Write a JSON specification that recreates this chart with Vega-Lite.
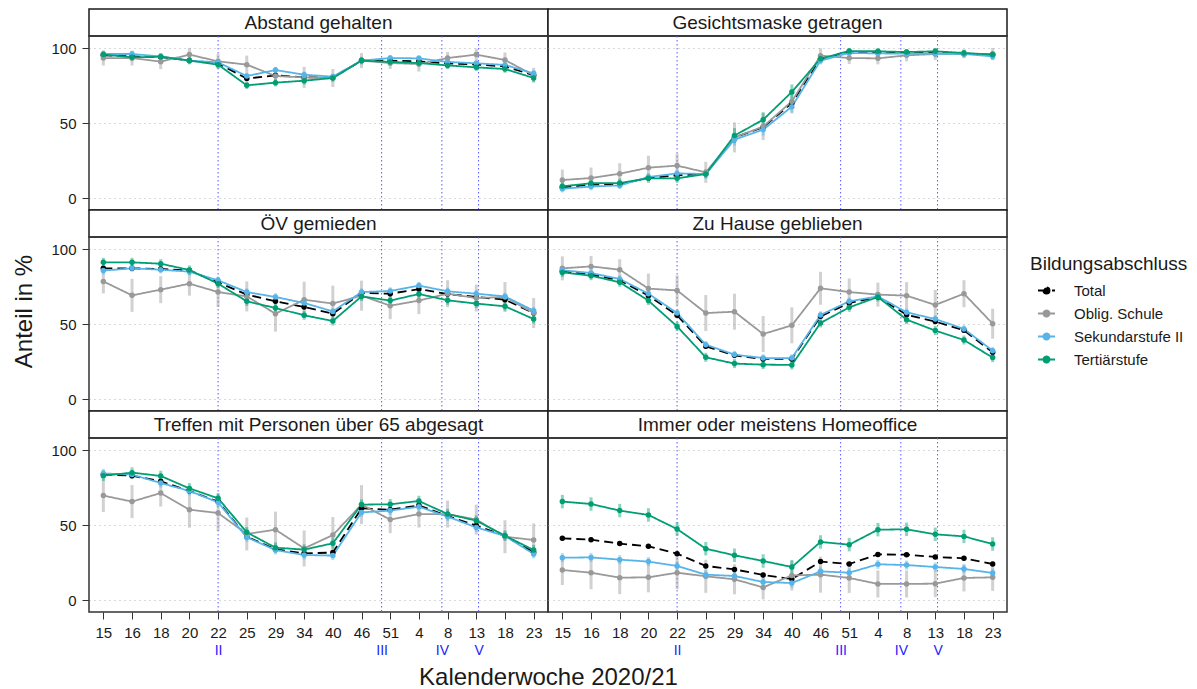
{
"$schema": "https://vega.github.io/schema/vega-lite/v6.json",
"padding": {"left": 12, "top": 8, "right": 5, "bottom": 0},
"config": {
  "font": "Liberation Sans",
  "view": {"stroke": "#333333", "strokeWidth": 1.5},
  "axis": {"domain": false, "labelColor": "#1a1a1a", "tickColor": "#333333", "gridColor": "#b5b5b5", "gridDash": [1, 4], "gridWidth": 1, "titleColor": "#1a1a1a", "labelFlush": false},
  "legend": {"labelColor": "#1a1a1a", "titleColor": "#1a1a1a"},
  "text": {"color": "#1a1a1a"}
},
"datasets": {
"rules": [{"r": 4, "t": "II"}, {"r": 9.7, "t": "III"}, {"r": 11.8, "t": "IV"}, {"r": 13.08, "t": "V"}],
"d": [
{"p":"A","i":0,"g":"Total","v":95.1,"lo":93.9,"hi":96.3},
{"p":"A","i":1,"g":"Total","v":94.4,"lo":93.2,"hi":95.6},
{"p":"A","i":2,"g":"Total","v":94,"lo":92.8,"hi":95.2},
{"p":"A","i":3,"g":"Total","v":91.6,"lo":90.4,"hi":92.8},
{"p":"A","i":4,"g":"Total","v":89.8,"lo":88.6,"hi":91},
{"p":"A","i":5,"g":"Total","v":79.6,"lo":78.4,"hi":80.8},
{"p":"A","i":6,"g":"Total","v":81.8,"lo":80.6,"hi":83},
{"p":"A","i":7,"g":"Total","v":80.4,"lo":79.2,"hi":81.6},
{"p":"A","i":8,"g":"Total","v":80.4,"lo":79.2,"hi":81.6},
{"p":"A","i":9,"g":"Total","v":91.6,"lo":90.4,"hi":92.8},
{"p":"A","i":10,"g":"Total","v":91.6,"lo":90.4,"hi":92.8},
{"p":"A","i":11,"g":"Total","v":91.1,"lo":89.9,"hi":92.3},
{"p":"A","i":12,"g":"Total","v":89.8,"lo":88.6,"hi":91},
{"p":"A","i":13,"g":"Total","v":88.9,"lo":87.7,"hi":90.1},
{"p":"A","i":14,"g":"Total","v":87.8,"lo":86.6,"hi":89},
{"p":"A","i":15,"g":"Total","v":81.8,"lo":80.6,"hi":83},
{"p":"A","i":0,"g":"Oblig. Schule","v":93.3,"lo":88.3,"hi":98.3},
{"p":"A","i":1,"g":"Oblig. Schule","v":93.3,"lo":88.3,"hi":98.3},
{"p":"A","i":2,"g":"Oblig. Schule","v":90.9,"lo":85.9,"hi":95.9},
{"p":"A","i":3,"g":"Oblig. Schule","v":95.6,"lo":91.1,"hi":100.1},
{"p":"A","i":4,"g":"Oblig. Schule","v":91.1,"lo":86.1,"hi":96.1},
{"p":"A","i":5,"g":"Oblig. Schule","v":88.9,"lo":82.9,"hi":94.9},
{"p":"A","i":6,"g":"Oblig. Schule","v":81.3,"lo":75.3,"hi":87.3},
{"p":"A","i":7,"g":"Oblig. Schule","v":80.4,"lo":73.4,"hi":87.4},
{"p":"A","i":8,"g":"Oblig. Schule","v":80,"lo":74,"hi":86},
{"p":"A","i":9,"g":"Oblig. Schule","v":91.6,"lo":86.6,"hi":96.6},
{"p":"A","i":10,"g":"Oblig. Schule","v":90,"lo":86,"hi":94},
{"p":"A","i":11,"g":"Oblig. Schule","v":89.3,"lo":84.3,"hi":94.3},
{"p":"A","i":12,"g":"Oblig. Schule","v":93.3,"lo":89.3,"hi":97.3},
{"p":"A","i":13,"g":"Oblig. Schule","v":95.6,"lo":91.6,"hi":99.6},
{"p":"A","i":14,"g":"Oblig. Schule","v":92,"lo":87,"hi":97},
{"p":"A","i":15,"g":"Oblig. Schule","v":81.8,"lo":76.8,"hi":86.8},
{"p":"A","i":0,"g":"Sekundarstufe II","v":96,"lo":94,"hi":98},
{"p":"A","i":1,"g":"Sekundarstufe II","v":96,"lo":94,"hi":98},
{"p":"A","i":2,"g":"Sekundarstufe II","v":94.4,"lo":92.4,"hi":96.4},
{"p":"A","i":3,"g":"Sekundarstufe II","v":91.6,"lo":89.6,"hi":93.6},
{"p":"A","i":4,"g":"Sekundarstufe II","v":90.4,"lo":88.4,"hi":92.4},
{"p":"A","i":5,"g":"Sekundarstufe II","v":81.3,"lo":79.3,"hi":83.3},
{"p":"A","i":6,"g":"Sekundarstufe II","v":85.3,"lo":83.3,"hi":87.3},
{"p":"A","i":7,"g":"Sekundarstufe II","v":82.2,"lo":80.2,"hi":84.2},
{"p":"A","i":8,"g":"Sekundarstufe II","v":80.9,"lo":78.9,"hi":82.9},
{"p":"A","i":9,"g":"Sekundarstufe II","v":91.6,"lo":89.6,"hi":93.6},
{"p":"A","i":10,"g":"Sekundarstufe II","v":93.3,"lo":91.3,"hi":95.3},
{"p":"A","i":11,"g":"Sekundarstufe II","v":93.1,"lo":91.1,"hi":95.1},
{"p":"A","i":12,"g":"Sekundarstufe II","v":90.7,"lo":88.7,"hi":92.7},
{"p":"A","i":13,"g":"Sekundarstufe II","v":89.8,"lo":87.8,"hi":91.8},
{"p":"A","i":14,"g":"Sekundarstufe II","v":88.7,"lo":86.7,"hi":90.7},
{"p":"A","i":15,"g":"Sekundarstufe II","v":83.1,"lo":81.1,"hi":85.1},
{"p":"A","i":0,"g":"Tertiärstufe","v":95.6,"lo":93.1,"hi":98.1},
{"p":"A","i":1,"g":"Tertiärstufe","v":93.8,"lo":91.3,"hi":96.3},
{"p":"A","i":2,"g":"Tertiärstufe","v":94.2,"lo":91.7,"hi":96.7},
{"p":"A","i":3,"g":"Tertiärstufe","v":91.6,"lo":89.1,"hi":94.1},
{"p":"A","i":4,"g":"Tertiärstufe","v":88.9,"lo":86.4,"hi":91.4},
{"p":"A","i":5,"g":"Tertiärstufe","v":75.1,"lo":72.6,"hi":77.6},
{"p":"A","i":6,"g":"Tertiärstufe","v":76.9,"lo":74.4,"hi":79.4},
{"p":"A","i":7,"g":"Tertiärstufe","v":78.2,"lo":75.7,"hi":80.7},
{"p":"A","i":8,"g":"Tertiärstufe","v":80,"lo":77.5,"hi":82.5},
{"p":"A","i":9,"g":"Tertiärstufe","v":91.6,"lo":89.1,"hi":94.1},
{"p":"A","i":10,"g":"Tertiärstufe","v":90.7,"lo":88.2,"hi":93.2},
{"p":"A","i":11,"g":"Tertiärstufe","v":90,"lo":87.5,"hi":92.5},
{"p":"A","i":12,"g":"Tertiärstufe","v":88.4,"lo":85.9,"hi":90.9},
{"p":"A","i":13,"g":"Tertiärstufe","v":87.1,"lo":84.6,"hi":89.6},
{"p":"A","i":14,"g":"Tertiärstufe","v":86,"lo":83.5,"hi":88.5},
{"p":"A","i":15,"g":"Tertiärstufe","v":80,"lo":77.5,"hi":82.5},
{"p":"B","i":0,"g":"Total","v":7.1,"lo":5.6,"hi":8.6},
{"p":"B","i":1,"g":"Total","v":8.9,"lo":7.4,"hi":10.4},
{"p":"B","i":2,"g":"Total","v":9.3,"lo":7.8,"hi":10.8},
{"p":"B","i":3,"g":"Total","v":13.3,"lo":11.8,"hi":14.8},
{"p":"B","i":4,"g":"Total","v":15.1,"lo":13.6,"hi":16.6},
{"p":"B","i":5,"g":"Total","v":16.2,"lo":14.7,"hi":17.7},
{"p":"B","i":6,"g":"Total","v":40.4,"lo":38.9,"hi":41.9},
{"p":"B","i":7,"g":"Total","v":47.1,"lo":45.6,"hi":48.6},
{"p":"B","i":8,"g":"Total","v":63.3,"lo":61.8,"hi":64.8},
{"p":"B","i":9,"g":"Total","v":92.9,"lo":91.4,"hi":94.4},
{"p":"B","i":10,"g":"Total","v":97.1,"lo":95.6,"hi":98.6},
{"p":"B","i":11,"g":"Total","v":97.1,"lo":95.6,"hi":98.6},
{"p":"B","i":12,"g":"Total","v":96.7,"lo":95.2,"hi":98.2},
{"p":"B","i":13,"g":"Total","v":96.7,"lo":95.2,"hi":98.2},
{"p":"B","i":14,"g":"Total","v":96.2,"lo":94.7,"hi":97.7},
{"p":"B","i":15,"g":"Total","v":95.6,"lo":94.1,"hi":97.1},
{"p":"B","i":0,"g":"Oblig. Schule","v":12,"lo":5,"hi":19},
{"p":"B","i":1,"g":"Oblig. Schule","v":13.3,"lo":6.3,"hi":20.3},
{"p":"B","i":2,"g":"Oblig. Schule","v":16.2,"lo":9.2,"hi":23.2},
{"p":"B","i":3,"g":"Oblig. Schule","v":20.2,"lo":12.2,"hi":28.2},
{"p":"B","i":4,"g":"Oblig. Schule","v":21.6,"lo":13.6,"hi":29.6},
{"p":"B","i":5,"g":"Oblig. Schule","v":17.1,"lo":10.1,"hi":24.1},
{"p":"B","i":6,"g":"Oblig. Schule","v":40.4,"lo":30.4,"hi":50.4},
{"p":"B","i":7,"g":"Oblig. Schule","v":47.6,"lo":38.6,"hi":56.6},
{"p":"B","i":8,"g":"Oblig. Schule","v":64.4,"lo":56.4,"hi":72.4},
{"p":"B","i":9,"g":"Oblig. Schule","v":94.9,"lo":89.9,"hi":99.9},
{"p":"B","i":10,"g":"Oblig. Schule","v":93.3,"lo":89.3,"hi":97.3},
{"p":"B","i":11,"g":"Oblig. Schule","v":93.1,"lo":89.1,"hi":97.1},
{"p":"B","i":12,"g":"Oblig. Schule","v":95.1,"lo":91.1,"hi":99.1},
{"p":"B","i":13,"g":"Oblig. Schule","v":96,"lo":92,"hi":100},
{"p":"B","i":14,"g":"Oblig. Schule","v":96.2,"lo":93.2,"hi":99.2},
{"p":"B","i":15,"g":"Oblig. Schule","v":96,"lo":92,"hi":100},
{"p":"B","i":0,"g":"Sekundarstufe II","v":6.2,"lo":3.7,"hi":8.7},
{"p":"B","i":1,"g":"Sekundarstufe II","v":7.6,"lo":5.1,"hi":10.1},
{"p":"B","i":2,"g":"Sekundarstufe II","v":8.4,"lo":5.9,"hi":10.9},
{"p":"B","i":3,"g":"Sekundarstufe II","v":14,"lo":11.5,"hi":16.5},
{"p":"B","i":4,"g":"Sekundarstufe II","v":16.4,"lo":13.9,"hi":18.9},
{"p":"B","i":5,"g":"Sekundarstufe II","v":16,"lo":13.5,"hi":18.5},
{"p":"B","i":6,"g":"Sekundarstufe II","v":38.9,"lo":34.9,"hi":42.9},
{"p":"B","i":7,"g":"Sekundarstufe II","v":45.6,"lo":41.6,"hi":49.6},
{"p":"B","i":8,"g":"Sekundarstufe II","v":60.9,"lo":56.9,"hi":64.9},
{"p":"B","i":9,"g":"Sekundarstufe II","v":91.6,"lo":89.1,"hi":94.1},
{"p":"B","i":10,"g":"Sekundarstufe II","v":96.7,"lo":94.2,"hi":99.2},
{"p":"B","i":11,"g":"Sekundarstufe II","v":96.4,"lo":93.9,"hi":98.9},
{"p":"B","i":12,"g":"Sekundarstufe II","v":96.2,"lo":93.7,"hi":98.7},
{"p":"B","i":13,"g":"Sekundarstufe II","v":96.2,"lo":93.7,"hi":98.7},
{"p":"B","i":14,"g":"Sekundarstufe II","v":96,"lo":93.5,"hi":98.5},
{"p":"B","i":15,"g":"Sekundarstufe II","v":94.4,"lo":91.9,"hi":96.9},
{"p":"B","i":0,"g":"Tertiärstufe","v":7.8,"lo":4.8,"hi":10.8},
{"p":"B","i":1,"g":"Tertiärstufe","v":9.8,"lo":6.8,"hi":12.8},
{"p":"B","i":2,"g":"Tertiärstufe","v":10,"lo":7,"hi":13},
{"p":"B","i":3,"g":"Tertiärstufe","v":13.1,"lo":10.1,"hi":16.1},
{"p":"B","i":4,"g":"Tertiärstufe","v":13.1,"lo":10.1,"hi":16.1},
{"p":"B","i":5,"g":"Tertiärstufe","v":16,"lo":13,"hi":19},
{"p":"B","i":6,"g":"Tertiärstufe","v":41.6,"lo":36.6,"hi":46.6},
{"p":"B","i":7,"g":"Tertiärstufe","v":52.2,"lo":47.2,"hi":57.2},
{"p":"B","i":8,"g":"Tertiärstufe","v":70.7,"lo":65.7,"hi":75.7},
{"p":"B","i":9,"g":"Tertiärstufe","v":92.9,"lo":89.9,"hi":95.9},
{"p":"B","i":10,"g":"Tertiärstufe","v":98,"lo":96,"hi":100},
{"p":"B","i":11,"g":"Tertiärstufe","v":97.8,"lo":95.8,"hi":99.8},
{"p":"B","i":12,"g":"Tertiärstufe","v":97.3,"lo":95.3,"hi":99.3},
{"p":"B","i":13,"g":"Tertiärstufe","v":97.8,"lo":95.8,"hi":99.8},
{"p":"B","i":14,"g":"Tertiärstufe","v":96.7,"lo":94.7,"hi":98.7},
{"p":"B","i":15,"g":"Tertiärstufe","v":95.6,"lo":93.6,"hi":97.6},
{"p":"C","i":0,"g":"Total","v":87.1,"lo":85.6,"hi":88.6},
{"p":"C","i":1,"g":"Total","v":87.1,"lo":85.6,"hi":88.6},
{"p":"C","i":2,"g":"Total","v":86.7,"lo":85.2,"hi":88.2},
{"p":"C","i":3,"g":"Total","v":85.6,"lo":84.1,"hi":87.1},
{"p":"C","i":4,"g":"Total","v":77.8,"lo":76.3,"hi":79.3},
{"p":"C","i":5,"g":"Total","v":69.6,"lo":68.1,"hi":71.1},
{"p":"C","i":6,"g":"Total","v":65.1,"lo":63.6,"hi":66.6},
{"p":"C","i":7,"g":"Total","v":61.3,"lo":59.8,"hi":62.8},
{"p":"C","i":8,"g":"Total","v":56.9,"lo":55.4,"hi":58.4},
{"p":"C","i":9,"g":"Total","v":70.7,"lo":69.2,"hi":72.2},
{"p":"C","i":10,"g":"Total","v":70.2,"lo":68.7,"hi":71.7},
{"p":"C","i":11,"g":"Total","v":73.3,"lo":71.8,"hi":74.8},
{"p":"C","i":12,"g":"Total","v":70,"lo":68.5,"hi":71.5},
{"p":"C","i":13,"g":"Total","v":68,"lo":66.5,"hi":69.5},
{"p":"C","i":14,"g":"Total","v":66.2,"lo":64.7,"hi":67.7},
{"p":"C","i":15,"g":"Total","v":57.3,"lo":55.8,"hi":58.8},
{"p":"C","i":0,"g":"Oblig. Schule","v":78.4,"lo":70.4,"hi":86.4},
{"p":"C","i":1,"g":"Oblig. Schule","v":69.1,"lo":58.1,"hi":80.1},
{"p":"C","i":2,"g":"Oblig. Schule","v":72.9,"lo":63.9,"hi":81.9},
{"p":"C","i":3,"g":"Oblig. Schule","v":76.9,"lo":68.9,"hi":84.9},
{"p":"C","i":4,"g":"Oblig. Schule","v":71.3,"lo":61.3,"hi":81.3},
{"p":"C","i":5,"g":"Oblig. Schule","v":68.4,"lo":58.4,"hi":78.4},
{"p":"C","i":6,"g":"Oblig. Schule","v":56.9,"lo":44.9,"hi":68.9},
{"p":"C","i":7,"g":"Oblig. Schule","v":66.2,"lo":54.2,"hi":78.2},
{"p":"C","i":8,"g":"Oblig. Schule","v":63.6,"lo":51.6,"hi":75.6},
{"p":"C","i":9,"g":"Oblig. Schule","v":68.9,"lo":58.9,"hi":78.9},
{"p":"C","i":10,"g":"Oblig. Schule","v":62.2,"lo":53.2,"hi":71.2},
{"p":"C","i":11,"g":"Oblig. Schule","v":65.6,"lo":56.6,"hi":74.6},
{"p":"C","i":12,"g":"Oblig. Schule","v":70.2,"lo":61.2,"hi":79.2},
{"p":"C","i":13,"g":"Oblig. Schule","v":67.3,"lo":58.3,"hi":76.3},
{"p":"C","i":14,"g":"Oblig. Schule","v":68,"lo":58,"hi":78},
{"p":"C","i":15,"g":"Oblig. Schule","v":57.3,"lo":47.3,"hi":67.3},
{"p":"C","i":0,"g":"Sekundarstufe II","v":85.6,"lo":83.1,"hi":88.1},
{"p":"C","i":1,"g":"Sekundarstufe II","v":87.1,"lo":84.6,"hi":89.6},
{"p":"C","i":2,"g":"Sekundarstufe II","v":86.2,"lo":83.7,"hi":88.7},
{"p":"C","i":3,"g":"Sekundarstufe II","v":84.9,"lo":82.4,"hi":87.4},
{"p":"C","i":4,"g":"Sekundarstufe II","v":79.1,"lo":76.6,"hi":81.6},
{"p":"C","i":5,"g":"Sekundarstufe II","v":71.3,"lo":68.8,"hi":73.8},
{"p":"C","i":6,"g":"Sekundarstufe II","v":68,"lo":65.5,"hi":70.5},
{"p":"C","i":7,"g":"Sekundarstufe II","v":64,"lo":61.5,"hi":66.5},
{"p":"C","i":8,"g":"Sekundarstufe II","v":58.4,"lo":55.9,"hi":60.9},
{"p":"C","i":9,"g":"Sekundarstufe II","v":71.3,"lo":68.8,"hi":73.8},
{"p":"C","i":10,"g":"Sekundarstufe II","v":72,"lo":69.5,"hi":74.5},
{"p":"C","i":11,"g":"Sekundarstufe II","v":75.6,"lo":73.1,"hi":78.1},
{"p":"C","i":12,"g":"Sekundarstufe II","v":71.8,"lo":69.3,"hi":74.3},
{"p":"C","i":13,"g":"Sekundarstufe II","v":70.2,"lo":67.7,"hi":72.7},
{"p":"C","i":14,"g":"Sekundarstufe II","v":68.4,"lo":65.9,"hi":70.9},
{"p":"C","i":15,"g":"Sekundarstufe II","v":58.9,"lo":56.4,"hi":61.4},
{"p":"C","i":0,"g":"Tertiärstufe","v":91.1,"lo":88.1,"hi":94.1},
{"p":"C","i":1,"g":"Tertiärstufe","v":91.1,"lo":88.1,"hi":94.1},
{"p":"C","i":2,"g":"Tertiärstufe","v":90.2,"lo":87.2,"hi":93.2},
{"p":"C","i":3,"g":"Tertiärstufe","v":86,"lo":83,"hi":89},
{"p":"C","i":4,"g":"Tertiärstufe","v":76.9,"lo":73.9,"hi":79.9},
{"p":"C","i":5,"g":"Tertiärstufe","v":65.1,"lo":62.1,"hi":68.1},
{"p":"C","i":6,"g":"Tertiärstufe","v":60.7,"lo":57.7,"hi":63.7},
{"p":"C","i":7,"g":"Tertiärstufe","v":55.8,"lo":52.8,"hi":58.8},
{"p":"C","i":8,"g":"Tertiärstufe","v":52,"lo":49,"hi":55},
{"p":"C","i":9,"g":"Tertiärstufe","v":68.4,"lo":65.4,"hi":71.4},
{"p":"C","i":10,"g":"Tertiärstufe","v":65.6,"lo":62.6,"hi":68.6},
{"p":"C","i":11,"g":"Tertiärstufe","v":70,"lo":67,"hi":73},
{"p":"C","i":12,"g":"Tertiärstufe","v":65.8,"lo":62.8,"hi":68.8},
{"p":"C","i":13,"g":"Tertiärstufe","v":63.6,"lo":60.6,"hi":66.6},
{"p":"C","i":14,"g":"Tertiärstufe","v":61.8,"lo":58.8,"hi":64.8},
{"p":"C","i":15,"g":"Tertiärstufe","v":53.3,"lo":50.3,"hi":56.3},
{"p":"D","i":0,"g":"Total","v":85.1,"lo":83.6,"hi":86.6},
{"p":"D","i":1,"g":"Total","v":83.1,"lo":81.6,"hi":84.6},
{"p":"D","i":2,"g":"Total","v":79.1,"lo":77.6,"hi":80.6},
{"p":"D","i":3,"g":"Total","v":68.9,"lo":67.4,"hi":70.4},
{"p":"D","i":4,"g":"Total","v":55.8,"lo":54.3,"hi":57.3},
{"p":"D","i":5,"g":"Total","v":35.1,"lo":33.6,"hi":36.6},
{"p":"D","i":6,"g":"Total","v":29.1,"lo":27.6,"hi":30.6},
{"p":"D","i":7,"g":"Total","v":26.7,"lo":25.2,"hi":28.2},
{"p":"D","i":8,"g":"Total","v":26.7,"lo":25.2,"hi":28.2},
{"p":"D","i":9,"g":"Total","v":55.1,"lo":53.6,"hi":56.6},
{"p":"D","i":10,"g":"Total","v":64,"lo":62.5,"hi":65.5},
{"p":"D","i":11,"g":"Total","v":68,"lo":66.5,"hi":69.5},
{"p":"D","i":12,"g":"Total","v":56.2,"lo":54.7,"hi":57.7},
{"p":"D","i":13,"g":"Total","v":51.6,"lo":50.1,"hi":53.1},
{"p":"D","i":14,"g":"Total","v":45.8,"lo":44.3,"hi":47.3},
{"p":"D","i":15,"g":"Total","v":31.1,"lo":29.6,"hi":32.6},
{"p":"D","i":0,"g":"Oblig. Schule","v":87.1,"lo":79.1,"hi":95.1},
{"p":"D","i":1,"g":"Oblig. Schule","v":88.4,"lo":81.4,"hi":95.4},
{"p":"D","i":2,"g":"Oblig. Schule","v":86.2,"lo":79.2,"hi":93.2},
{"p":"D","i":3,"g":"Oblig. Schule","v":73.6,"lo":63.6,"hi":83.6},
{"p":"D","i":4,"g":"Oblig. Schule","v":72.4,"lo":62.4,"hi":82.4},
{"p":"D","i":5,"g":"Oblig. Schule","v":57.3,"lo":45.3,"hi":69.3},
{"p":"D","i":6,"g":"Oblig. Schule","v":58.2,"lo":46.2,"hi":70.2},
{"p":"D","i":7,"g":"Oblig. Schule","v":43.3,"lo":31.3,"hi":55.3},
{"p":"D","i":8,"g":"Oblig. Schule","v":49.1,"lo":37.1,"hi":61.1},
{"p":"D","i":9,"g":"Oblig. Schule","v":73.8,"lo":62.8,"hi":84.8},
{"p":"D","i":10,"g":"Oblig. Schule","v":71.3,"lo":62.3,"hi":80.3},
{"p":"D","i":11,"g":"Oblig. Schule","v":69.6,"lo":61.6,"hi":77.6},
{"p":"D","i":12,"g":"Oblig. Schule","v":68.9,"lo":59.9,"hi":77.9},
{"p":"D","i":13,"g":"Oblig. Schule","v":62.7,"lo":52.7,"hi":72.7},
{"p":"D","i":14,"g":"Oblig. Schule","v":70.2,"lo":61.2,"hi":79.2},
{"p":"D","i":15,"g":"Oblig. Schule","v":50.2,"lo":40.2,"hi":60.2},
{"p":"D","i":0,"g":"Sekundarstufe II","v":85.8,"lo":83.3,"hi":88.3},
{"p":"D","i":1,"g":"Sekundarstufe II","v":84,"lo":81.5,"hi":86.5},
{"p":"D","i":2,"g":"Sekundarstufe II","v":80,"lo":77.5,"hi":82.5},
{"p":"D","i":3,"g":"Sekundarstufe II","v":70.2,"lo":67.7,"hi":72.7},
{"p":"D","i":4,"g":"Sekundarstufe II","v":57.3,"lo":54.8,"hi":59.8},
{"p":"D","i":5,"g":"Sekundarstufe II","v":36.2,"lo":33.7,"hi":38.7},
{"p":"D","i":6,"g":"Sekundarstufe II","v":29.6,"lo":27.1,"hi":32.1},
{"p":"D","i":7,"g":"Sekundarstufe II","v":27.3,"lo":24.8,"hi":29.8},
{"p":"D","i":8,"g":"Sekundarstufe II","v":27.3,"lo":24.8,"hi":29.8},
{"p":"D","i":9,"g":"Sekundarstufe II","v":56,"lo":53.5,"hi":58.5},
{"p":"D","i":10,"g":"Sekundarstufe II","v":65.1,"lo":62.6,"hi":67.6},
{"p":"D","i":11,"g":"Sekundarstufe II","v":68.4,"lo":65.9,"hi":70.9},
{"p":"D","i":12,"g":"Sekundarstufe II","v":57.8,"lo":55.3,"hi":60.3},
{"p":"D","i":13,"g":"Sekundarstufe II","v":53.3,"lo":50.8,"hi":55.8},
{"p":"D","i":14,"g":"Sekundarstufe II","v":46.7,"lo":44.2,"hi":49.2},
{"p":"D","i":15,"g":"Sekundarstufe II","v":32.2,"lo":29.7,"hi":34.7},
{"p":"D","i":0,"g":"Tertiärstufe","v":84.4,"lo":81.4,"hi":87.4},
{"p":"D","i":1,"g":"Tertiärstufe","v":82.2,"lo":79.2,"hi":85.2},
{"p":"D","i":2,"g":"Tertiärstufe","v":77.8,"lo":74.8,"hi":80.8},
{"p":"D","i":3,"g":"Tertiärstufe","v":65.6,"lo":62.6,"hi":68.6},
{"p":"D","i":4,"g":"Tertiärstufe","v":48.4,"lo":45.4,"hi":51.4},
{"p":"D","i":5,"g":"Tertiärstufe","v":27.8,"lo":24.8,"hi":30.8},
{"p":"D","i":6,"g":"Tertiärstufe","v":23.6,"lo":20.6,"hi":26.6},
{"p":"D","i":7,"g":"Tertiärstufe","v":22.9,"lo":19.9,"hi":25.9},
{"p":"D","i":8,"g":"Tertiärstufe","v":22.7,"lo":19.7,"hi":25.7},
{"p":"D","i":9,"g":"Tertiärstufe","v":50.7,"lo":47.7,"hi":53.7},
{"p":"D","i":10,"g":"Tertiärstufe","v":61.1,"lo":58.1,"hi":64.1},
{"p":"D","i":11,"g":"Tertiärstufe","v":68,"lo":65,"hi":71},
{"p":"D","i":12,"g":"Tertiärstufe","v":52.9,"lo":49.9,"hi":55.9},
{"p":"D","i":13,"g":"Tertiärstufe","v":45.6,"lo":42.6,"hi":48.6},
{"p":"D","i":14,"g":"Tertiärstufe","v":39.3,"lo":36.3,"hi":42.3},
{"p":"D","i":15,"g":"Tertiärstufe","v":27.6,"lo":24.6,"hi":30.6},
{"p":"E","i":0,"g":"Total","v":83.6,"lo":82.1,"hi":85.1},
{"p":"E","i":1,"g":"Total","v":82.9,"lo":81.4,"hi":84.4},
{"p":"E","i":2,"g":"Total","v":79.1,"lo":77.6,"hi":80.6},
{"p":"E","i":3,"g":"Total","v":72.7,"lo":71.2,"hi":74.2},
{"p":"E","i":4,"g":"Total","v":65.6,"lo":64.1,"hi":67.1},
{"p":"E","i":5,"g":"Total","v":42.2,"lo":40.7,"hi":43.7},
{"p":"E","i":6,"g":"Total","v":33.8,"lo":32.3,"hi":35.3},
{"p":"E","i":7,"g":"Total","v":31.1,"lo":29.6,"hi":32.6},
{"p":"E","i":8,"g":"Total","v":31.6,"lo":30.1,"hi":33.1},
{"p":"E","i":9,"g":"Total","v":61.1,"lo":59.6,"hi":62.6},
{"p":"E","i":10,"g":"Total","v":60.2,"lo":58.7,"hi":61.7},
{"p":"E","i":11,"g":"Total","v":63.1,"lo":61.6,"hi":64.6},
{"p":"E","i":12,"g":"Total","v":56,"lo":54.5,"hi":57.5},
{"p":"E","i":13,"g":"Total","v":49.6,"lo":48.1,"hi":51.1},
{"p":"E","i":14,"g":"Total","v":42.7,"lo":41.2,"hi":44.2},
{"p":"E","i":15,"g":"Total","v":31.8,"lo":30.3,"hi":33.3},
{"p":"E","i":0,"g":"Oblig. Schule","v":69.6,"lo":58.6,"hi":80.6},
{"p":"E","i":1,"g":"Oblig. Schule","v":65.6,"lo":54.6,"hi":76.6},
{"p":"E","i":2,"g":"Oblig. Schule","v":71.3,"lo":62.3,"hi":80.3},
{"p":"E","i":3,"g":"Oblig. Schule","v":60.2,"lo":48.2,"hi":72.2},
{"p":"E","i":4,"g":"Oblig. Schule","v":58,"lo":46,"hi":70},
{"p":"E","i":5,"g":"Oblig. Schule","v":44,"lo":33,"hi":55},
{"p":"E","i":6,"g":"Oblig. Schule","v":46.9,"lo":34.9,"hi":58.9},
{"p":"E","i":7,"g":"Oblig. Schule","v":34.4,"lo":22.4,"hi":46.4},
{"p":"E","i":8,"g":"Oblig. Schule","v":43.3,"lo":31.3,"hi":55.3},
{"p":"E","i":9,"g":"Oblig. Schule","v":63.6,"lo":50.6,"hi":76.6},
{"p":"E","i":10,"g":"Oblig. Schule","v":53.6,"lo":44.6,"hi":62.6},
{"p":"E","i":11,"g":"Oblig. Schule","v":57.3,"lo":48.3,"hi":66.3},
{"p":"E","i":12,"g":"Oblig. Schule","v":57.3,"lo":48.3,"hi":66.3},
{"p":"E","i":13,"g":"Oblig. Schule","v":53.6,"lo":43.6,"hi":63.6},
{"p":"E","i":14,"g":"Oblig. Schule","v":42.2,"lo":31.2,"hi":53.2},
{"p":"E","i":15,"g":"Oblig. Schule","v":40,"lo":29,"hi":51},
{"p":"E","i":0,"g":"Sekundarstufe II","v":84.4,"lo":81.4,"hi":87.4},
{"p":"E","i":1,"g":"Sekundarstufe II","v":83.6,"lo":80.6,"hi":86.6},
{"p":"E","i":2,"g":"Sekundarstufe II","v":78,"lo":75,"hi":81},
{"p":"E","i":3,"g":"Sekundarstufe II","v":72.7,"lo":69.7,"hi":75.7},
{"p":"E","i":4,"g":"Sekundarstufe II","v":65.1,"lo":62.1,"hi":68.1},
{"p":"E","i":5,"g":"Sekundarstufe II","v":41.8,"lo":38.8,"hi":44.8},
{"p":"E","i":6,"g":"Sekundarstufe II","v":33.3,"lo":30.3,"hi":36.3},
{"p":"E","i":7,"g":"Sekundarstufe II","v":30,"lo":27,"hi":33},
{"p":"E","i":8,"g":"Sekundarstufe II","v":29.6,"lo":26.6,"hi":32.6},
{"p":"E","i":9,"g":"Sekundarstufe II","v":58.4,"lo":55.4,"hi":61.4},
{"p":"E","i":10,"g":"Sekundarstufe II","v":59.6,"lo":56.6,"hi":62.6},
{"p":"E","i":11,"g":"Sekundarstufe II","v":62.2,"lo":59.2,"hi":65.2},
{"p":"E","i":12,"g":"Sekundarstufe II","v":55.6,"lo":52.6,"hi":58.6},
{"p":"E","i":13,"g":"Sekundarstufe II","v":48.4,"lo":45.4,"hi":51.4},
{"p":"E","i":14,"g":"Sekundarstufe II","v":42.7,"lo":39.7,"hi":45.7},
{"p":"E","i":15,"g":"Sekundarstufe II","v":30.7,"lo":27.7,"hi":33.7},
{"p":"E","i":0,"g":"Tertiärstufe","v":82.9,"lo":79.4,"hi":86.4},
{"p":"E","i":1,"g":"Tertiärstufe","v":84.9,"lo":81.4,"hi":88.4},
{"p":"E","i":2,"g":"Tertiärstufe","v":82.7,"lo":79.2,"hi":86.2},
{"p":"E","i":3,"g":"Tertiärstufe","v":74.4,"lo":70.9,"hi":77.9},
{"p":"E","i":4,"g":"Tertiärstufe","v":67.8,"lo":64.3,"hi":71.3},
{"p":"E","i":5,"g":"Tertiärstufe","v":45.1,"lo":41.6,"hi":48.6},
{"p":"E","i":6,"g":"Tertiärstufe","v":34.9,"lo":31.4,"hi":38.4},
{"p":"E","i":7,"g":"Tertiärstufe","v":33.6,"lo":30.1,"hi":37.1},
{"p":"E","i":8,"g":"Tertiärstufe","v":37.8,"lo":34.3,"hi":41.3},
{"p":"E","i":9,"g":"Tertiärstufe","v":63.6,"lo":60.1,"hi":67.1},
{"p":"E","i":10,"g":"Tertiärstufe","v":63.8,"lo":60.3,"hi":67.3},
{"p":"E","i":11,"g":"Tertiärstufe","v":66,"lo":62.5,"hi":69.5},
{"p":"E","i":12,"g":"Tertiärstufe","v":57.3,"lo":53.8,"hi":60.8},
{"p":"E","i":13,"g":"Tertiärstufe","v":52.9,"lo":49.4,"hi":56.4},
{"p":"E","i":14,"g":"Tertiärstufe","v":42.9,"lo":39.4,"hi":46.4},
{"p":"E","i":15,"g":"Tertiärstufe","v":33.3,"lo":29.8,"hi":36.8},
{"p":"F","i":0,"g":"Total","v":41.1,"lo":39.6,"hi":42.6},
{"p":"F","i":1,"g":"Total","v":40.2,"lo":38.7,"hi":41.7},
{"p":"F","i":2,"g":"Total","v":37.6,"lo":36.1,"hi":39.1},
{"p":"F","i":3,"g":"Total","v":35.8,"lo":34.3,"hi":37.3},
{"p":"F","i":4,"g":"Total","v":30.9,"lo":29.4,"hi":32.4},
{"p":"F","i":5,"g":"Total","v":22.7,"lo":21.2,"hi":24.2},
{"p":"F","i":6,"g":"Total","v":20.4,"lo":18.9,"hi":21.9},
{"p":"F","i":7,"g":"Total","v":16.7,"lo":15.2,"hi":18.2},
{"p":"F","i":8,"g":"Total","v":14,"lo":12.5,"hi":15.5},
{"p":"F","i":9,"g":"Total","v":25.6,"lo":24.1,"hi":27.1},
{"p":"F","i":10,"g":"Total","v":24,"lo":22.5,"hi":25.5},
{"p":"F","i":11,"g":"Total","v":30.4,"lo":28.9,"hi":31.9},
{"p":"F","i":12,"g":"Total","v":30.2,"lo":28.7,"hi":31.7},
{"p":"F","i":13,"g":"Total","v":28.7,"lo":27.2,"hi":30.2},
{"p":"F","i":14,"g":"Total","v":27.8,"lo":26.3,"hi":29.3},
{"p":"F","i":15,"g":"Total","v":24,"lo":22.5,"hi":25.5},
{"p":"F","i":0,"g":"Oblig. Schule","v":20,"lo":10,"hi":30},
{"p":"F","i":1,"g":"Oblig. Schule","v":18.2,"lo":7.2,"hi":29.2},
{"p":"F","i":2,"g":"Oblig. Schule","v":14.9,"lo":3.9,"hi":25.9},
{"p":"F","i":3,"g":"Oblig. Schule","v":15.1,"lo":5.1,"hi":25.1},
{"p":"F","i":4,"g":"Oblig. Schule","v":18.2,"lo":7.2,"hi":29.2},
{"p":"F","i":5,"g":"Oblig. Schule","v":15.8,"lo":4.8,"hi":26.8},
{"p":"F","i":6,"g":"Oblig. Schule","v":13.8,"lo":3.8,"hi":23.8},
{"p":"F","i":7,"g":"Oblig. Schule","v":8.4,"lo":0.4,"hi":16.4},
{"p":"F","i":8,"g":"Oblig. Schule","v":16.4,"lo":6.4,"hi":26.4},
{"p":"F","i":9,"g":"Oblig. Schule","v":16.9,"lo":4.9,"hi":28.9},
{"p":"F","i":10,"g":"Oblig. Schule","v":14.7,"lo":4.7,"hi":24.7},
{"p":"F","i":11,"g":"Oblig. Schule","v":10.7,"lo":1.7,"hi":19.7},
{"p":"F","i":12,"g":"Oblig. Schule","v":10.7,"lo":1.7,"hi":19.7},
{"p":"F","i":13,"g":"Oblig. Schule","v":10.9,"lo":1.9,"hi":19.9},
{"p":"F","i":14,"g":"Oblig. Schule","v":14.7,"lo":5.7,"hi":23.7},
{"p":"F","i":15,"g":"Oblig. Schule","v":15.1,"lo":6.1,"hi":24.1},
{"p":"F","i":0,"g":"Sekundarstufe II","v":28.2,"lo":25.2,"hi":31.2},
{"p":"F","i":1,"g":"Sekundarstufe II","v":28.4,"lo":25.4,"hi":31.4},
{"p":"F","i":2,"g":"Sekundarstufe II","v":26.9,"lo":23.9,"hi":29.9},
{"p":"F","i":3,"g":"Sekundarstufe II","v":25.6,"lo":22.6,"hi":28.6},
{"p":"F","i":4,"g":"Sekundarstufe II","v":22.7,"lo":19.7,"hi":25.7},
{"p":"F","i":5,"g":"Sekundarstufe II","v":16.9,"lo":13.9,"hi":19.9},
{"p":"F","i":6,"g":"Sekundarstufe II","v":16,"lo":13,"hi":19},
{"p":"F","i":7,"g":"Sekundarstufe II","v":12,"lo":9,"hi":15},
{"p":"F","i":8,"g":"Sekundarstufe II","v":11.3,"lo":8.3,"hi":14.3},
{"p":"F","i":9,"g":"Sekundarstufe II","v":19.1,"lo":16.1,"hi":22.1},
{"p":"F","i":10,"g":"Sekundarstufe II","v":18.2,"lo":15.2,"hi":21.2},
{"p":"F","i":11,"g":"Sekundarstufe II","v":23.8,"lo":20.8,"hi":26.8},
{"p":"F","i":12,"g":"Sekundarstufe II","v":23.3,"lo":20.3,"hi":26.3},
{"p":"F","i":13,"g":"Sekundarstufe II","v":22,"lo":19,"hi":25},
{"p":"F","i":14,"g":"Sekundarstufe II","v":20.7,"lo":17.7,"hi":23.7},
{"p":"F","i":15,"g":"Sekundarstufe II","v":18,"lo":15,"hi":21},
{"p":"F","i":0,"g":"Tertiärstufe","v":65.6,"lo":61.1,"hi":70.1},
{"p":"F","i":1,"g":"Tertiärstufe","v":64,"lo":59.5,"hi":68.5},
{"p":"F","i":2,"g":"Tertiärstufe","v":59.6,"lo":55.1,"hi":64.1},
{"p":"F","i":3,"g":"Tertiärstufe","v":56.7,"lo":52.2,"hi":61.2},
{"p":"F","i":4,"g":"Tertiärstufe","v":47.3,"lo":42.8,"hi":51.8},
{"p":"F","i":5,"g":"Tertiärstufe","v":34.2,"lo":29.7,"hi":38.7},
{"p":"F","i":6,"g":"Tertiärstufe","v":29.8,"lo":25.3,"hi":34.3},
{"p":"F","i":7,"g":"Tertiärstufe","v":26,"lo":21.5,"hi":30.5},
{"p":"F","i":8,"g":"Tertiärstufe","v":22,"lo":17.5,"hi":26.5},
{"p":"F","i":9,"g":"Tertiärstufe","v":38.7,"lo":34.2,"hi":43.2},
{"p":"F","i":10,"g":"Tertiärstufe","v":36.9,"lo":32.4,"hi":41.4},
{"p":"F","i":11,"g":"Tertiärstufe","v":46.9,"lo":42.4,"hi":51.4},
{"p":"F","i":12,"g":"Tertiärstufe","v":47.1,"lo":42.6,"hi":51.6},
{"p":"F","i":13,"g":"Tertiärstufe","v":43.8,"lo":39.3,"hi":48.3},
{"p":"F","i":14,"g":"Tertiärstufe","v":42.4,"lo":37.9,"hi":46.9},
{"p":"F","i":15,"g":"Tertiärstufe","v":37.3,"lo":32.8,"hi":41.8}
]
},
"columns": 2,
"spacing": 0,
"bounds": "flush",
"align": "each",
"concat": [
  {"width": 459, "height": 27, "data": {"values": [{"t": "Abstand gehalten"}]}, "layer": [{"mark": {"type": "rect", "fill": "white", "stroke": "#1a1a1a", "strokeWidth": 1.5}, "encoding": {}}, {"mark": {"type": "text", "fontSize": 19}, "encoding": {"text": {"field": "t"}}}]},
  {"width": 459, "height": 27, "data": {"values": [{"t": "Gesichtsmaske getragen"}]}, "layer": [{"mark": {"type": "rect", "fill": "white", "stroke": "#1a1a1a", "strokeWidth": 1.5}, "encoding": {}}, {"mark": {"type": "text", "fontSize": 19}, "encoding": {"text": {"field": "t"}}}]},
  {"width": 459, "height": 174,
   "layer": [
    {"data": {"name": "rules"}, "mark": {"type": "rule", "color": "#5a5aff", "strokeDash": [1.5, 2.5], "strokeWidth": 1},
     "encoding": {"x": {"field": "r", "type": "quantitative", "scale": {"domain": [-0.5, 15.5], "nice": false, "zero": false}, "axis": null}}},
    {"data": {"name": "d"}, "transform": [{"filter": "datum.p === 'A'"}],
     "encoding": {
      "x": {"field": "i", "type": "quantitative", "scale": {"domain": [-0.5, 15.5], "nice": false, "zero": false}, "axis": null},
      "color": {"field": "g", "type": "nominal", "scale": {"domain": ["Total", "Oblig. Schule", "Sekundarstufe II", "Tertiärstufe"], "range": ["#000000", "#999999", "#56B4E9", "#009E73"]}, "legend": {"title": "Bildungsabschluss", "orient": "none", "legendX": 941, "legendY": 246, "symbolType": "M-1,0L1,0M0.35,0A0.35,0.35,0,1,1,-0.35,0A0.35,0.35,0,1,1,0.35,0Z", "symbolSize": 289, "symbolStrokeWidth": 2, "titleFontSize": 19, "titleFontWeight": "normal", "labelFontSize": 15, "rowPadding": 5, "labelOffset": 18, "symbolOffset": 7, "titlePadding": 7, "padding": 0, "encode": {"symbols": {"update": {"fill": {"scale": "color", "field": "value"}, "stroke": {"scale": "color", "field": "value"}, "opacity": {"value": 1}}}}}}
     },
     "layer": [
      {"mark": {"type": "rule", "strokeWidth": 3, "opacity": 0.45}, "encoding": {"y": {"field": "lo", "type": "quantitative", "scale": {"domain": [-8, 108], "nice": false, "zero": false}, "axis": {"values": [0, 50, 100], "grid": true, "title": null, "tickSize": 7, "labelPadding": 6, "labelFontSize": 15}}, "y2": {"field": "hi"}}},
      {"mark": {"type": "line", "strokeWidth": 1.8}, "encoding": {"y": {"field": "v", "type": "quantitative", "scale": {"domain": [-8, 108], "nice": false, "zero": false}, "axis": {"values": [0, 50, 100], "grid": true, "title": null, "tickSize": 7, "labelPadding": 6, "labelFontSize": 15}}, "strokeDash": {"field": "g", "type": "nominal", "scale": {"domain": ["Total", "Oblig. Schule", "Sekundarstufe II", "Tertiärstufe"], "range": [[9, 5], [1, 0], [1, 0], [1, 0]]}, "legend": null}}},
      {"mark": {"type": "circle", "size": 30, "opacity": 1}, "encoding": {"y": {"field": "v", "type": "quantitative", "scale": {"domain": [-8, 108], "nice": false, "zero": false}, "axis": {"values": [0, 50, 100], "grid": true, "title": null, "tickSize": 7, "labelPadding": 6, "labelFontSize": 15}}}}
     ]}
   ],
   "resolve": {"scale": {"x": "independent"}, "axis": {"x": "independent"}}},
  {"width": 459, "height": 174,
   "layer": [
    {"data": {"name": "rules"}, "mark": {"type": "rule", "color": "#5a5aff", "strokeDash": [1.5, 2.5], "strokeWidth": 1},
     "encoding": {"x": {"field": "r", "type": "quantitative", "scale": {"domain": [-0.5, 15.5], "nice": false, "zero": false}, "axis": null}}},
    {"data": {"name": "d"}, "transform": [{"filter": "datum.p === 'B'"}],
     "encoding": {
      "x": {"field": "i", "type": "quantitative", "scale": {"domain": [-0.5, 15.5], "nice": false, "zero": false}, "axis": null},
      "color": {"field": "g", "type": "nominal", "scale": {"domain": ["Total", "Oblig. Schule", "Sekundarstufe II", "Tertiärstufe"], "range": ["#000000", "#999999", "#56B4E9", "#009E73"]}, "legend": {"title": "Bildungsabschluss", "orient": "none", "legendX": 941, "legendY": 246, "symbolType": "M-1,0L1,0M0.35,0A0.35,0.35,0,1,1,-0.35,0A0.35,0.35,0,1,1,0.35,0Z", "symbolSize": 289, "symbolStrokeWidth": 2, "titleFontSize": 19, "titleFontWeight": "normal", "labelFontSize": 15, "rowPadding": 5, "labelOffset": 18, "symbolOffset": 7, "titlePadding": 7, "padding": 0, "encode": {"symbols": {"update": {"fill": {"scale": "color", "field": "value"}, "stroke": {"scale": "color", "field": "value"}, "opacity": {"value": 1}}}}}}
     },
     "layer": [
      {"mark": {"type": "rule", "strokeWidth": 3, "opacity": 0.45}, "encoding": {"y": {"field": "lo", "type": "quantitative", "scale": {"domain": [-8, 108], "nice": false, "zero": false}, "axis": {"values": [0, 50, 100], "grid": true, "labels": false, "ticks": false, "title": null}}, "y2": {"field": "hi"}}},
      {"mark": {"type": "line", "strokeWidth": 1.8}, "encoding": {"y": {"field": "v", "type": "quantitative", "scale": {"domain": [-8, 108], "nice": false, "zero": false}, "axis": {"values": [0, 50, 100], "grid": true, "labels": false, "ticks": false, "title": null}}, "strokeDash": {"field": "g", "type": "nominal", "scale": {"domain": ["Total", "Oblig. Schule", "Sekundarstufe II", "Tertiärstufe"], "range": [[9, 5], [1, 0], [1, 0], [1, 0]]}, "legend": null}}},
      {"mark": {"type": "circle", "size": 30, "opacity": 1}, "encoding": {"y": {"field": "v", "type": "quantitative", "scale": {"domain": [-8, 108], "nice": false, "zero": false}, "axis": {"values": [0, 50, 100], "grid": true, "labels": false, "ticks": false, "title": null}}}}
     ]}
   ],
   "resolve": {"scale": {"x": "independent"}, "axis": {"x": "independent"}}},
  {"width": 459, "height": 27, "data": {"values": [{"t": "ÖV gemieden"}]}, "layer": [{"mark": {"type": "rect", "fill": "white", "stroke": "#1a1a1a", "strokeWidth": 1.5}, "encoding": {}}, {"mark": {"type": "text", "fontSize": 19}, "encoding": {"text": {"field": "t"}}}]},
  {"width": 459, "height": 27, "data": {"values": [{"t": "Zu Hause geblieben"}]}, "layer": [{"mark": {"type": "rect", "fill": "white", "stroke": "#1a1a1a", "strokeWidth": 1.5}, "encoding": {}}, {"mark": {"type": "text", "fontSize": 19}, "encoding": {"text": {"field": "t"}}}]},
  {"width": 459, "height": 174,
   "layer": [
    {"data": {"name": "rules"}, "mark": {"type": "rule", "color": "#5a5aff", "strokeDash": [1.5, 2.5], "strokeWidth": 1},
     "encoding": {"x": {"field": "r", "type": "quantitative", "scale": {"domain": [-0.5, 15.5], "nice": false, "zero": false}, "axis": null}}},
    {"data": {"name": "d"}, "transform": [{"filter": "datum.p === 'C'"}],
     "encoding": {
      "x": {"field": "i", "type": "quantitative", "scale": {"domain": [-0.5, 15.5], "nice": false, "zero": false}, "axis": null},
      "color": {"field": "g", "type": "nominal", "scale": {"domain": ["Total", "Oblig. Schule", "Sekundarstufe II", "Tertiärstufe"], "range": ["#000000", "#999999", "#56B4E9", "#009E73"]}, "legend": {"title": "Bildungsabschluss", "orient": "none", "legendX": 941, "legendY": 246, "symbolType": "M-1,0L1,0M0.35,0A0.35,0.35,0,1,1,-0.35,0A0.35,0.35,0,1,1,0.35,0Z", "symbolSize": 289, "symbolStrokeWidth": 2, "titleFontSize": 19, "titleFontWeight": "normal", "labelFontSize": 15, "rowPadding": 5, "labelOffset": 18, "symbolOffset": 7, "titlePadding": 7, "padding": 0, "encode": {"symbols": {"update": {"fill": {"scale": "color", "field": "value"}, "stroke": {"scale": "color", "field": "value"}, "opacity": {"value": 1}}}}}}
     },
     "layer": [
      {"mark": {"type": "rule", "strokeWidth": 3, "opacity": 0.45}, "encoding": {"y": {"field": "lo", "type": "quantitative", "scale": {"domain": [-8, 108], "nice": false, "zero": false}, "axis": {"values": [0, 50, 100], "grid": true, "title": "Anteil in %", "titleFontSize": 24, "titleFontWeight": "normal", "titleY": 74, "titlePadding": 14, "tickSize": 7, "labelPadding": 6, "labelFontSize": 15}}, "y2": {"field": "hi"}}},
      {"mark": {"type": "line", "strokeWidth": 1.8}, "encoding": {"y": {"field": "v", "type": "quantitative", "scale": {"domain": [-8, 108], "nice": false, "zero": false}, "axis": {"values": [0, 50, 100], "grid": true, "title": "Anteil in %", "titleFontSize": 24, "titleFontWeight": "normal", "titleY": 74, "titlePadding": 14, "tickSize": 7, "labelPadding": 6, "labelFontSize": 15}}, "strokeDash": {"field": "g", "type": "nominal", "scale": {"domain": ["Total", "Oblig. Schule", "Sekundarstufe II", "Tertiärstufe"], "range": [[9, 5], [1, 0], [1, 0], [1, 0]]}, "legend": null}}},
      {"mark": {"type": "circle", "size": 30, "opacity": 1}, "encoding": {"y": {"field": "v", "type": "quantitative", "scale": {"domain": [-8, 108], "nice": false, "zero": false}, "axis": {"values": [0, 50, 100], "grid": true, "title": "Anteil in %", "titleFontSize": 24, "titleFontWeight": "normal", "titleY": 74, "titlePadding": 14, "tickSize": 7, "labelPadding": 6, "labelFontSize": 15}}}}
     ]}
   ],
   "resolve": {"scale": {"x": "independent"}, "axis": {"x": "independent"}}},
  {"width": 459, "height": 174,
   "layer": [
    {"data": {"name": "rules"}, "mark": {"type": "rule", "color": "#5a5aff", "strokeDash": [1.5, 2.5], "strokeWidth": 1},
     "encoding": {"x": {"field": "r", "type": "quantitative", "scale": {"domain": [-0.5, 15.5], "nice": false, "zero": false}, "axis": null}}},
    {"data": {"name": "d"}, "transform": [{"filter": "datum.p === 'D'"}],
     "encoding": {
      "x": {"field": "i", "type": "quantitative", "scale": {"domain": [-0.5, 15.5], "nice": false, "zero": false}, "axis": null},
      "color": {"field": "g", "type": "nominal", "scale": {"domain": ["Total", "Oblig. Schule", "Sekundarstufe II", "Tertiärstufe"], "range": ["#000000", "#999999", "#56B4E9", "#009E73"]}, "legend": {"title": "Bildungsabschluss", "orient": "none", "legendX": 941, "legendY": 246, "symbolType": "M-1,0L1,0M0.35,0A0.35,0.35,0,1,1,-0.35,0A0.35,0.35,0,1,1,0.35,0Z", "symbolSize": 289, "symbolStrokeWidth": 2, "titleFontSize": 19, "titleFontWeight": "normal", "labelFontSize": 15, "rowPadding": 5, "labelOffset": 18, "symbolOffset": 7, "titlePadding": 7, "padding": 0, "encode": {"symbols": {"update": {"fill": {"scale": "color", "field": "value"}, "stroke": {"scale": "color", "field": "value"}, "opacity": {"value": 1}}}}}}
     },
     "layer": [
      {"mark": {"type": "rule", "strokeWidth": 3, "opacity": 0.45}, "encoding": {"y": {"field": "lo", "type": "quantitative", "scale": {"domain": [-8, 108], "nice": false, "zero": false}, "axis": {"values": [0, 50, 100], "grid": true, "labels": false, "ticks": false, "title": null}}, "y2": {"field": "hi"}}},
      {"mark": {"type": "line", "strokeWidth": 1.8}, "encoding": {"y": {"field": "v", "type": "quantitative", "scale": {"domain": [-8, 108], "nice": false, "zero": false}, "axis": {"values": [0, 50, 100], "grid": true, "labels": false, "ticks": false, "title": null}}, "strokeDash": {"field": "g", "type": "nominal", "scale": {"domain": ["Total", "Oblig. Schule", "Sekundarstufe II", "Tertiärstufe"], "range": [[9, 5], [1, 0], [1, 0], [1, 0]]}, "legend": null}}},
      {"mark": {"type": "circle", "size": 30, "opacity": 1}, "encoding": {"y": {"field": "v", "type": "quantitative", "scale": {"domain": [-8, 108], "nice": false, "zero": false}, "axis": {"values": [0, 50, 100], "grid": true, "labels": false, "ticks": false, "title": null}}}}
     ]}
   ],
   "resolve": {"scale": {"x": "independent"}, "axis": {"x": "independent"}}},
  {"width": 459, "height": 27, "data": {"values": [{"t": "Treffen mit Personen über 65 abgesagt"}]}, "layer": [{"mark": {"type": "rect", "fill": "white", "stroke": "#1a1a1a", "strokeWidth": 1.5}, "encoding": {}}, {"mark": {"type": "text", "fontSize": 19}, "encoding": {"text": {"field": "t"}}}]},
  {"width": 459, "height": 27, "data": {"values": [{"t": "Immer oder meistens Homeoffice"}]}, "layer": [{"mark": {"type": "rect", "fill": "white", "stroke": "#1a1a1a", "strokeWidth": 1.5}, "encoding": {}}, {"mark": {"type": "text", "fontSize": 19}, "encoding": {"text": {"field": "t"}}}]},
  {"width": 459, "height": 174,
   "layer": [
    {"data": {"name": "rules"}, "mark": {"type": "rule", "color": "#5a5aff", "strokeDash": [1.5, 2.5], "strokeWidth": 1},
     "encoding": {"x": {"field": "r", "type": "quantitative", "scale": {"domain": [-0.5, 15.5], "nice": false, "zero": false}, "axis": {"orient": "bottom", "values": [4, 9.7, 11.8, 13.08], "labelExpr": "datum.value < 5 ? 'II' : datum.value < 10 ? 'III' : datum.value < 12 ? 'IV' : 'V'", "ticks": false, "tickSize": 0, "domain": false, "grid": false, "offset": 29, "labelPadding": 2, "labelColor": "#2222ff", "labelFontSize": 14, "labelFlush": false, "labelOverlap": false, "title": null}}}},
    {"data": {"name": "d"}, "transform": [{"filter": "datum.p === 'E'"}],
     "encoding": {
      "x": {"field": "i", "type": "quantitative", "scale": {"domain": [-0.5, 15.5], "nice": false, "zero": false}, "axis": {"orient": "bottom", "values": [0, 1, 2, 3, 4, 5, 6, 7, 8, 9, 10, 11, 12, 13, 14, 15], "labelExpr": "['15','16','18','20','22','25','29','34','40','46','51','4','8','13','18','23'][datum.value]", "labelFlush": false, "labelOverlap": false, "grid": false, "tickSize": 7, "labelPadding": 6, "labelFontSize": 15, "title": "Kalenderwoche 2020/21", "titleX": 459, "titleFontSize": 24, "titleFontWeight": "normal", "titlePadding": 25}},
      "color": {"field": "g", "type": "nominal", "scale": {"domain": ["Total", "Oblig. Schule", "Sekundarstufe II", "Tertiärstufe"], "range": ["#000000", "#999999", "#56B4E9", "#009E73"]}, "legend": {"title": "Bildungsabschluss", "orient": "none", "legendX": 941, "legendY": 246, "symbolType": "M-1,0L1,0M0.35,0A0.35,0.35,0,1,1,-0.35,0A0.35,0.35,0,1,1,0.35,0Z", "symbolSize": 289, "symbolStrokeWidth": 2, "titleFontSize": 19, "titleFontWeight": "normal", "labelFontSize": 15, "rowPadding": 5, "labelOffset": 18, "symbolOffset": 7, "titlePadding": 7, "padding": 0, "encode": {"symbols": {"update": {"fill": {"scale": "color", "field": "value"}, "stroke": {"scale": "color", "field": "value"}, "opacity": {"value": 1}}}}}}
     },
     "layer": [
      {"mark": {"type": "rule", "strokeWidth": 3, "opacity": 0.45}, "encoding": {"y": {"field": "lo", "type": "quantitative", "scale": {"domain": [-8, 108], "nice": false, "zero": false}, "axis": {"values": [0, 50, 100], "grid": true, "title": null, "tickSize": 7, "labelPadding": 6, "labelFontSize": 15}}, "y2": {"field": "hi"}}},
      {"mark": {"type": "line", "strokeWidth": 1.8}, "encoding": {"y": {"field": "v", "type": "quantitative", "scale": {"domain": [-8, 108], "nice": false, "zero": false}, "axis": {"values": [0, 50, 100], "grid": true, "title": null, "tickSize": 7, "labelPadding": 6, "labelFontSize": 15}}, "strokeDash": {"field": "g", "type": "nominal", "scale": {"domain": ["Total", "Oblig. Schule", "Sekundarstufe II", "Tertiärstufe"], "range": [[9, 5], [1, 0], [1, 0], [1, 0]]}, "legend": null}}},
      {"mark": {"type": "circle", "size": 30, "opacity": 1}, "encoding": {"y": {"field": "v", "type": "quantitative", "scale": {"domain": [-8, 108], "nice": false, "zero": false}, "axis": {"values": [0, 50, 100], "grid": true, "title": null, "tickSize": 7, "labelPadding": 6, "labelFontSize": 15}}}}
     ]}
   ],
   "resolve": {"scale": {"x": "independent"}, "axis": {"x": "independent"}}},
  {"width": 459, "height": 174,
   "layer": [
    {"data": {"name": "rules"}, "mark": {"type": "rule", "color": "#5a5aff", "strokeDash": [1.5, 2.5], "strokeWidth": 1},
     "encoding": {"x": {"field": "r", "type": "quantitative", "scale": {"domain": [-0.5, 15.5], "nice": false, "zero": false}, "axis": {"orient": "bottom", "values": [4, 9.7, 11.8, 13.08], "labelExpr": "datum.value < 5 ? 'II' : datum.value < 10 ? 'III' : datum.value < 12 ? 'IV' : 'V'", "ticks": false, "tickSize": 0, "domain": false, "grid": false, "offset": 29, "labelPadding": 2, "labelColor": "#2222ff", "labelFontSize": 14, "labelFlush": false, "labelOverlap": false, "title": null}}}},
    {"data": {"name": "d"}, "transform": [{"filter": "datum.p === 'F'"}],
     "encoding": {
      "x": {"field": "i", "type": "quantitative", "scale": {"domain": [-0.5, 15.5], "nice": false, "zero": false}, "axis": {"orient": "bottom", "values": [0, 1, 2, 3, 4, 5, 6, 7, 8, 9, 10, 11, 12, 13, 14, 15], "labelExpr": "['15','16','18','20','22','25','29','34','40','46','51','4','8','13','18','23'][datum.value]", "labelFlush": false, "labelOverlap": false, "grid": false, "tickSize": 7, "labelPadding": 6, "labelFontSize": 15, "title": null}},
      "color": {"field": "g", "type": "nominal", "scale": {"domain": ["Total", "Oblig. Schule", "Sekundarstufe II", "Tertiärstufe"], "range": ["#000000", "#999999", "#56B4E9", "#009E73"]}, "legend": {"title": "Bildungsabschluss", "orient": "none", "legendX": 941, "legendY": 246, "symbolType": "M-1,0L1,0M0.35,0A0.35,0.35,0,1,1,-0.35,0A0.35,0.35,0,1,1,0.35,0Z", "symbolSize": 289, "symbolStrokeWidth": 2, "titleFontSize": 19, "titleFontWeight": "normal", "labelFontSize": 15, "rowPadding": 5, "labelOffset": 18, "symbolOffset": 7, "titlePadding": 7, "padding": 0, "encode": {"symbols": {"update": {"fill": {"scale": "color", "field": "value"}, "stroke": {"scale": "color", "field": "value"}, "opacity": {"value": 1}}}}}}
     },
     "layer": [
      {"mark": {"type": "rule", "strokeWidth": 3, "opacity": 0.45}, "encoding": {"y": {"field": "lo", "type": "quantitative", "scale": {"domain": [-8, 108], "nice": false, "zero": false}, "axis": {"values": [0, 50, 100], "grid": true, "labels": false, "ticks": false, "title": null}}, "y2": {"field": "hi"}}},
      {"mark": {"type": "line", "strokeWidth": 1.8}, "encoding": {"y": {"field": "v", "type": "quantitative", "scale": {"domain": [-8, 108], "nice": false, "zero": false}, "axis": {"values": [0, 50, 100], "grid": true, "labels": false, "ticks": false, "title": null}}, "strokeDash": {"field": "g", "type": "nominal", "scale": {"domain": ["Total", "Oblig. Schule", "Sekundarstufe II", "Tertiärstufe"], "range": [[9, 5], [1, 0], [1, 0], [1, 0]]}, "legend": null}}},
      {"mark": {"type": "circle", "size": 30, "opacity": 1}, "encoding": {"y": {"field": "v", "type": "quantitative", "scale": {"domain": [-8, 108], "nice": false, "zero": false}, "axis": {"values": [0, 50, 100], "grid": true, "labels": false, "ticks": false, "title": null}}}}
     ]}
   ],
   "resolve": {"scale": {"x": "independent"}, "axis": {"x": "independent"}}}
]
}
